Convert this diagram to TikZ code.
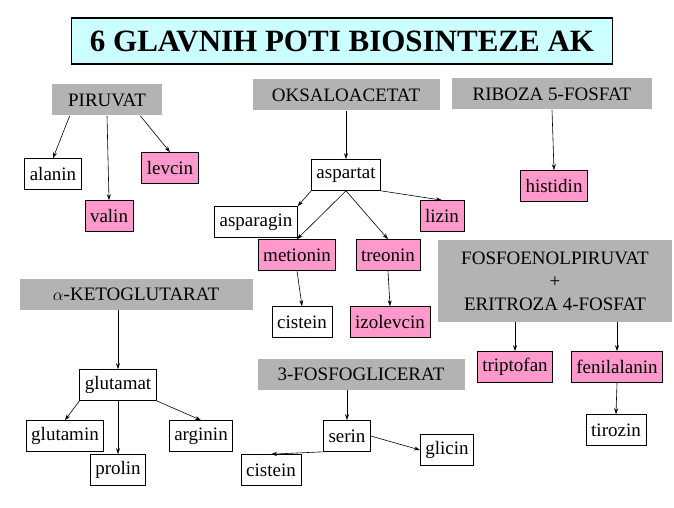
\documentclass[tikz,border=0pt]{standalone}
\usepackage{fontspec}
\setmainfont{Liberation Serif}
\usetikzlibrary{arrows.meta}
\definecolor{gr}{HTML}{B3B3B3}
\definecolor{pk}{HTML}{FF99CC}
\definecolor{cy}{HTML}{CCFFFF}
\begin{document}
\begin{tikzpicture}[x=1pt,y=-1pt,
 base/.style={draw=black,line width=0.6pt,minimum height=31pt,inner xsep=5pt,font=\fontsize{19}{21}\selectfont},
 wb/.style={base,fill=white},
 pb/.style={base,fill=pk},
 gb/.style={base,fill=gr,draw=none},
 ar/.style={-{Stealth[length=6pt,width=4pt]},line width=0.6pt}]
\useasboundingbox[fill=white] (0,0) rectangle (674,508);
\node[draw=black,line width=1.5pt,fill=cy,minimum width=541pt,minimum height=46pt,font=\fontsize{31}{34}\selectfont\bfseries] (t) at (342,41) {6 GLAVNIH POTI BIOSINTEZE AK};
\node[gb,minimum width=110pt] (pir) at (107,100) {PIRUVAT};
\node[wb] (ala) at (53,174) {alanin};
\node[pb] (val) at (109,216) {valin};
\node[pb] (lev) at (170,168) {levcin};
\node[gb,minimum width=187pt] (oks) at (346,95) {OKSALOACETAT};
\node[wb] (asp) at (346,175) {aspartat};
\node[wb] (aspg) at (256,222) {asparagin};
\node[pb] (liz) at (442,216) {lizin};
\node[pb] (met) at (297,255) {metionin};
\node[pb] (tre) at (388,255) {treonin};
\node[wb] (cis) at (302,322) {cistein};
\node[pb] (izo) at (390,322) {izolevcin};
\node[gb,minimum width=200pt] (rib) at (552,94) {RIBOZA 5-FOSFAT};
\node[pb] (his) at (554,186) {histidin};
\node[gb,minimum width=234pt,minimum height=82pt,align=center,font=\fontsize{19}{23}\selectfont] (fos) at (555,281) {FOSFOENOLPIRUVAT\\+\\ERITROZA 4-FOSFAT};
\node[pb] (tri) at (515,367) {triptofan};
\node[pb] (fen) at (617,367) {fenilalanin};
\node[wb] (tir) at (616,430) {tirozin};
\node[gb,minimum width=233pt] (ket) at (136,294) {$\alpha$-KETOGLUTARAT};
\node[wb] (glu) at (118,385) {glutamat};
\node[wb] (glm) at (65,436) {glutamin};
\node[wb] (pro) at (118,470) {prolin};
\node[wb] (arg) at (201,436) {arginin};
\node[gb,minimum width=207pt] (fg) at (361,374) {3-FOSFOGLICERAT};
\node[wb] (ser) at (347,436) {serin};
\node[wb] (cis2) at (271,470) {cistein};
\node[wb] (gli) at (447,450) {glicin};
\draw[ar] (pir.south west)++(18,0) -- (ala.north);
\draw[ar] (pir.south) -- (val.north);
\draw[ar] (pir.south east)++(-22,0) -- (lev.north);
\draw[ar] (oks.south) -- (asp.north);
\draw[ar] (asp.south west) -- (aspg.north east);
\draw[ar] (asp.south) -- (met.north);
\draw[ar] (asp.south) -- (tre.north);
\draw[ar] (asp.south east) -- (liz.north);
\draw[ar] (met.south) -- (cis.north);
\draw[ar] (tre.south) -- (izo.north);
\draw[ar] (rib.south) -- (his.north);
\draw[ar] (fos.south -| tri.north) -- (tri.north);
\draw[ar] (fos.south -| fen.north) -- (fen.north);
\draw[ar] (fen.south) -- (tir.north);
\draw[ar] (ket.south -| glu.north) -- (glu.north);
\draw[ar] (glu.south west) -- (glm.north);
\draw[ar] (glu.south) -- (pro.north);
\draw[ar] (glu.south east) -- (arg.north);
\draw[ar] (fg.south -| ser.north) -- (ser.north);
\draw[ar] (ser.south west) -- (cis2.north);
\draw[ar] (ser.east) -- (gli.west);
\end{tikzpicture}
\end{document}
